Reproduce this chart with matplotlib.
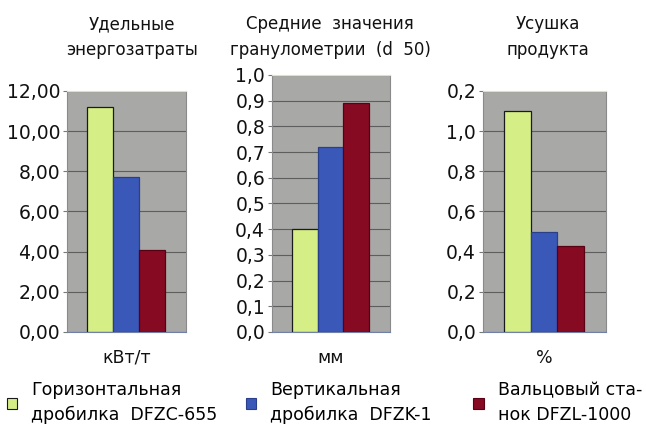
import numpy as np
import matplotlib.pyplot as plt
from matplotlib.patches import Patch

# Данные по трём машинам
machines = ["Горизонтальная\nдробилка  DFZC-655",
            "Вертикальная\nдробилка  DFZK-1",
            "Вальцовый ста-\nнок DFZL-1000"]
colors = ["#d6ee86", "#3a58b8", "#860a22"]
edges = ["#1a1a1a", "#2a3f8a", "#5a0015"]

titles = ["Удельные\nэнергозатраты",
          "Средние  значения\nгранулометрии  (d  50)",
          "Усушка\nпродукта"]
units = ["кВт/т", "мм", "%"]

energy = [11.2, 7.7, 4.1]
granulometry = [0.40, 0.72, 0.89]
shrinkage = [1.10, 0.50, 0.43]

energy_ticks = [0, 2, 4, 6, 8, 10, 12]
energy_labels = ["0,00", "2,00", "4,00", "6,00", "8,00", "10,00", "12,00"]
gran_ticks = [0.0, 0.1, 0.2, 0.3, 0.4, 0.5, 0.6, 0.7, 0.8, 0.9, 1.0]
gran_labels = ["0,0", "0,1", "0,2", "0,3", "0,4", "0,5", "0,6", "0,7", "0,8", "0,9", "1,0"]
shrink_ticks = [0.0, 0.2, 0.4, 0.6, 0.8, 1.0, 1.2]
shrink_labels = ["0,0", "0,2", "0,4", "0,6", "0,8", "1,0", "0,2"]

panels = [
    (energy, energy_ticks, energy_labels, [0.1037, 0.2207, 0.1842, 0.5657]),
    (granulometry, gran_ticks, gran_labels, [0.4211, 0.2207, 0.1827, 0.6033]),
    (shrinkage, shrink_ticks, shrink_labels, [0.7477, 0.2207, 0.1904, 0.5657]),
]
# центры заголовков (доли фигуры)
title_x = [0.204, 0.511, 0.848]
title_y = 0.965

fig = plt.figure(figsize=(6.46, 4.26), dpi=100)
fig.patch.set_facecolor("white")

x = np.arange(3)
for i, (vals, ticks, labels, pos) in enumerate(panels):
    ax = fig.add_axes(pos)
    ax.set_facecolor("#a8a9a6")
    ax.bar(x, vals, width=1.0, color=colors, edgecolor=edges, linewidth=0.9, zorder=3)
    ax.set_xlim(-1.27, 3.31)
    ax.set_ylim(ticks[0], ticks[-1])
    ax.set_yticks(ticks)
    ax.set_yticklabels(labels, fontsize=13.5, color="#111111")
    ax.set_xticks([])
    ax.yaxis.grid(True, color="#5e5e5e", linewidth=0.8, zorder=1)
    ax.tick_params(axis="y", length=3, width=0.8, color="#777777", pad=2)
    for side in ["left", "right", "top", "bottom"]:
        ax.spines[side].set_color("#8a8a8a")
        ax.spines[side].set_linewidth(0.8)
    ax.spines["top"].set_color("#e8e4a0")
    ax.spines["bottom"].set_color("#7080a8")
    ax.set_xlabel(units[i], fontsize=12.5, labelpad=12, color="#111111")
    fig.text(title_x[i], title_y, titles[i], fontsize=12, ha="center", va="top",
             color="#111111", linespacing=1.55)

# Легенда: по одному элементу под каждой панелью
leg_x = [0.0, 0.37, 0.722]
for i in range(3):
    h = Patch(facecolor=colors[i], edgecolor=edges[i], linewidth=0.8)
    leg = fig.legend([h], [machines[i]], loc="upper left", bbox_to_anchor=(leg_x[i], 0.122),
                     frameon=False, fontsize=12.5, handlelength=0.6, handleheight=0.6,
                     handletextpad=0.8, borderaxespad=0.0)
    for t in leg.get_texts():
        t.set_linespacing(1.5)

plt.savefig("out.png", dpi=100)
